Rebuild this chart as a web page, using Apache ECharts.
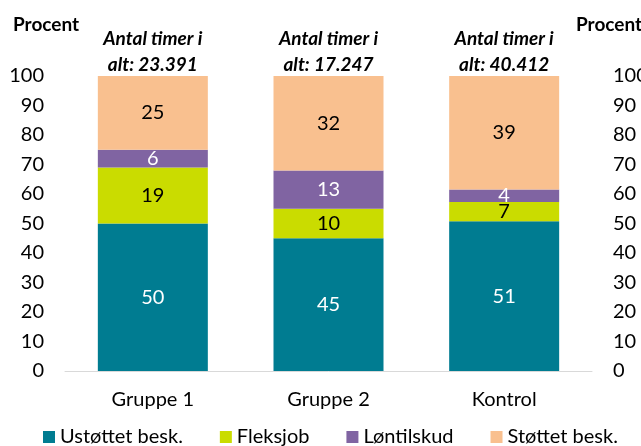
<!DOCTYPE html>
<html>
<head>
<meta charset="utf-8">
<script src="https://cdn.jsdelivr.net/npm/echarts@6/dist/echarts.min.js"></script>
<style>
  html, body { margin: 0; padding: 0; background: #fff; }
  #chart { width: 641px; height: 446px; }
</style>
</head>
<body>
<div id="chart"></div>
<script>
const categories = ["Gruppe 1", "Gruppe 2", "Kontrol"];
const totals = ["Antal timer i\nalt: 23.391", "Antal timer i\nalt: 17.247", "Antal timer i\nalt: 40.412"];
// shares in percent; labels show them rounded
const ustottet = [50, 45, 50.8];
const fleksjob = [19, 10, 6.5];
const lontilskud = [6, 13, 4.2];
const stottet = [25, 32, 38.5];
const yTicks = { min: 0, max: 100, interval: 10 };

const FONT = "Lato";
const chart = echarts.init(document.getElementById("chart"));

function barSeries(name, data, color, labelColor) {
  return {
    name: name,
    type: "bar",
    stack: "total",
    data: data,
    barWidth: 110,
    itemStyle: { color: color },
    label: {
      show: true,
      position: "inside",
      color: labelColor,
      fontFamily: FONT,
      fontSize: 20,
      formatter: (p) => Math.round(p.value),
    },
  };
}

const yAxisBase = {
  type: "value",
  min: yTicks.min,
  max: yTicks.max,
  interval: yTicks.interval,
  splitLine: { show: false },
  axisLine: { show: false },
  axisTick: { show: false },
  axisLabel: { color: "#000", fontFamily: FONT, fontSize: 20, margin: 21 },
};

chart.setOption({
  animation: false,
  textStyle: { fontFamily: FONT },
  grid: { left: 65, right: 49, top: 76, bottom: 75, outerBoundsMode: "none", containLabel: false },
  graphic: [
    { type: "text", left: 13, top: 15, style: { text: "Procent", font: "bold 19px " + FONT, fill: "#000" } },
    { type: "text", left: 576, top: 15, style: { text: "Procent", font: "bold 19px " + FONT, fill: "#000" } },
  ],
  legend: {
    bottom: -6,
    left: 38,
    itemWidth: 12,
    itemHeight: 12,
    itemGap: 37,
    icon: "rect",
    textStyle: { color: "#000", fontFamily: FONT, fontSize: 20 },
    data: ["Ustøttet besk.", "Fleksjob", "Løntilskud", "Støttet besk."],
  },
  xAxis: [
    {
      type: "category",
      data: categories,
      axisLine: { lineStyle: { color: "#d9d9d9", width: 1 } },
      axisTick: { show: false },
      axisLabel: { color: "#000", fontFamily: FONT, fontSize: 20, margin: 19 },
    },
    {
      type: "category",
      position: "top",
      data: totals,
      axisLine: { show: false },
      axisTick: { show: false },
      axisLabel: {
        color: "#000",
        fontFamily: FONT,
        fontSize: 19,
        fontWeight: "bold",
        fontStyle: "italic",
        lineHeight: 26,
        margin: -2,
      },
    },
  ],
  yAxis: [
    Object.assign({}, yAxisBase, { position: "left" }),
    Object.assign({}, yAxisBase, { position: "right" }),
  ],
  series: [
    barSeries("Ustøttet besk.", ustottet, "#007c91", "#fff"),
    barSeries("Fleksjob", fleksjob, "#cadc00", "#000"),
    barSeries("Løntilskud", lontilskud, "#8064a2", "#fff"),
    barSeries("Støttet besk.", stottet, "#f9c08f", "#000"),
  ],
});
</script>
</body>
</html>
